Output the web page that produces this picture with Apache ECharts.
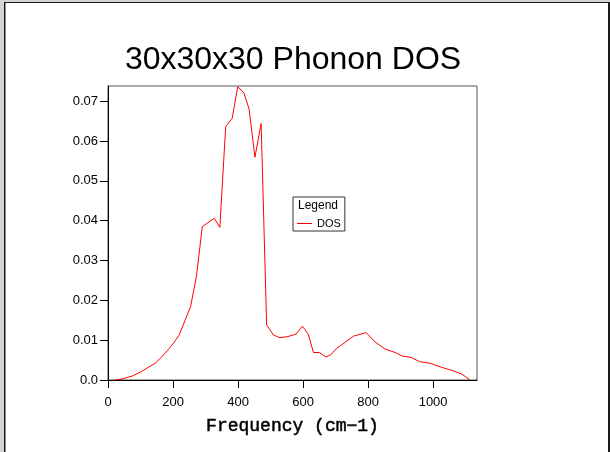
<!DOCTYPE html>
<html style="height: 100%">
<head>
    <meta charset="utf-8">
</head>
<body style="height: 100%; margin: 0; background: #fff">
<div id="container" style="width: 610px; height: 452px"></div>

<script src="https://cdn.jsdelivr.net/npm/echarts@6/dist/echarts.min.js"></script>

<script type="text/javascript">
    // DOS curve
    var freq = [20, 40, 75, 100, 114, 130, 145, 165, 185, 201, 219, 237, 254, 272, 290,
        327, 344, 362, 382, 399, 418, 434, 452, 471, 488, 509, 529, 553, 578, 598,
        616, 632, 650, 670, 685, 703, 730, 755, 794, 821, 852, 883, 906, 932, 958,
        991, 1026, 1062, 1088, 1114];
    var dos = [0.0, 0.0002, 0.001, 0.002, 0.0027, 0.0035, 0.0042, 0.0058, 0.0076, 0.0092,
        0.0113, 0.015, 0.0184, 0.026, 0.0385, 0.0406, 0.0383, 0.0636, 0.0657, 0.0736,
        0.0721, 0.068, 0.0559, 0.0644, 0.0138, 0.0113, 0.0106, 0.0109, 0.0115, 0.0135,
        0.0115, 0.0069, 0.0069, 0.0058, 0.0063, 0.0079, 0.0095, 0.011, 0.0119, 0.0096,
        0.0078, 0.0069, 0.006, 0.0057, 0.0046, 0.0042, 0.0032, 0.0023, 0.0015, 0.0];

    var xTicks = [0, 200, 400, 600, 800, 1000];
    var yTicks = [0, 0.01, 0.02, 0.03, 0.04, 0.05, 0.06, 0.07];

    var points = freq.map(function (f, i) { return [f, dos[i]]; });

    var chart = echarts.init(document.getElementById('container'), null, {renderer: 'canvas'});

    var option = {
        animation: false,
        backgroundColor: '#fff',
        title: {
            text: '30x30x30 Phonon DOS',
            left: 288,
            textAlign: 'center',
            top: 39,
            textStyle: {
                fontFamily: 'Liberation Sans',
                fontSize: 32,
                fontWeight: 'normal',
                color: '#000'
            }
        },
        grid: {
            left: 108,
            right: 133,
            top: 86,
            bottom: 72,
            show: true,
            borderColor: '#555',
            borderWidth: 1
        },
        legend: {
            left: 293,
            top: 197,
            orient: 'vertical',
            padding: [21, 4, 2, 4],
            borderColor: '#333',
            borderWidth: 1,
            backgroundColor: '#fff',
            itemWidth: 15,
            itemHeight: 1,
            itemGap: 4,
            icon: 'rect',
            textStyle: {
                fontFamily: 'Liberation Sans',
                fontSize: 11,
                color: '#000'
            },
            data: ['DOS']
        },
        graphic: [
            {type: 'rect', shape: {x: 0, y: 0, width: 610, height: 2}, style: {fill: '#d4d4d4'}, z: 100},
            {type: 'rect', shape: {x: 0, y: 0, width: 4, height: 452}, style: {fill: '#d4d4d4'}, z: 100},
            {type: 'rect', shape: {x: 4, y: 2, width: 606, height: 1}, style: {fill: '#1a1a1a'}, z: 100},
            {type: 'rect', shape: {x: 4, y: 2, width: 1.5, height: 450}, style: {fill: '#1a1a1a'}, z: 100},
            {type: 'rect', shape: {x: 608, y: 2, width: 2, height: 450}, style: {fill: '#1a1a1a'}, z: 100},
            {
                type: 'text', left: 298, top: 200, z: 100,
                style: {text: 'Legend', fontFamily: 'Liberation Sans', fontSize: 12, fill: '#000'}
            }
        ],
        xAxis: {
            type: 'value',
            min: 0,
            max: 1135,
            name: 'Frequency (cm\u22121)',
            nameLocation: 'middle',
            nameGap: 37,
            nameTextStyle: {
                fontFamily: 'Liberation Mono',
                fontSize: 18,
                color: '#000',
                textBorderColor: '#000',
                textBorderWidth: 0.5
            },
            splitLine: {show: false},
            axisLine: {lineStyle: {color: '#000', width: 1}},
            axisTick: {length: 8, lineStyle: {color: '#000'}, customValues: xTicks},
            axisLabel: {
                customValues: xTicks,
                margin: 16,
                fontFamily: 'Liberation Sans',
                fontSize: 13,
                color: '#000',
                formatter: function (v) { return String(v); }
            }
        },
        yAxis: {
            type: 'value',
            min: 0,
            max: 0.0738,
            splitLine: {show: false},
            axisLine: {lineStyle: {color: '#000', width: 1}},
            axisTick: {length: 8, lineStyle: {color: '#000'}, customValues: yTicks},
            axisLabel: {
                customValues: yTicks,
                margin: 10,
                fontFamily: 'Liberation Sans',
                fontSize: 13,
                color: '#000',
                formatter: function (v) { return v === 0 ? '0.0' : v.toFixed(2); }
            }
        },
        series: [
            {
                name: 'DOS',
                type: 'line',
                symbol: 'none',
                data: points,
                itemStyle: {color: '#ff0000'},
                lineStyle: {color: '#ff0000', width: 1}
            }
        ]
    };

    chart.setOption(option);
</script>
</body>
</html>
